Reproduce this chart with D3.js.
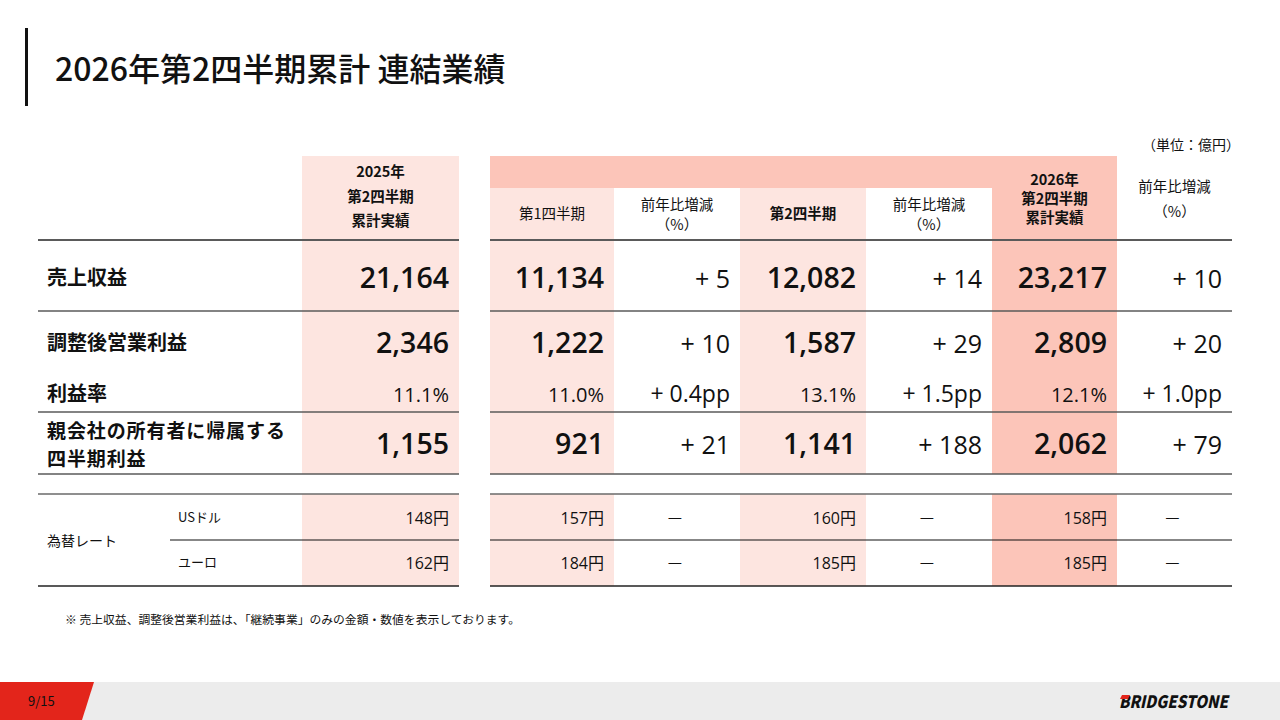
<!DOCTYPE html>
<html><head><meta charset="utf-8">
<script src="https://cdn.jsdelivr.net/npm/d3@7"></script>
<style>
html,body{margin:0;padding:0;background:#fff;}
svg{display:block;}
text{font-family:"Noto Sans CJK JP","Noto Sans",sans-serif;fill:#111;}
.num{font-family:"Open Sans","Noto Sans CJK JP",sans-serif;}
</style></head>
<body>
<svg id="c" width="1280" height="720"></svg>
<script>
// ---- data ----
const title = "2026年第2四半期累計 連結業績";
const unitLabel = "（単位：億円）";
const rowLabels = ["売上収益", "調整後営業利益", "利益率", "親会社の所有者に帰属する|四半期利益"];
const rowTypes = ["amount", "amount", "rate", "amount"];
const prev2025 = [21164, 2346, 11.1, 1155];
const q1 = [11134, 1222, 11.0, 921];
const q1Chg = [5, 10, 0.4, 21];
const q2 = [12082, 1587, 13.1, 1141];
const q2Chg = [14, 29, 1.5, 188];
const cum2026 = [23217, 2809, 12.1, 2062];
const cumChg = [10, 20, 1.0, 79];
const fxGroup = "為替レート";
const fxLabels = ["USドル", "ユーロ"];
const fx2025 = [148, 162];
const fxQ1 = [157, 184];
const fxQ2 = [160, 185];
const fx2026 = [158, 185];
const colKeys = ["prev", "q1", "q1c", "q2", "q2c", "cum", "cumc"];
const colHeaders = [
  ["2025年", "第2四半期", "累計実績"],
  ["第1四半期"],
  ["前年比増減", "（%）"],
  ["第2四半期"],
  ["前年比増減", "（%）"],
  ["2026年", "第2四半期", "累計実績"],
  ["前年比増減", "（%）"]
];
const footnote = "※ 売上収益、調整後営業利益は、「継続事業」のみの金額・数値を表示しております。";
const pageLabel = "9/15";
const brand = "BRIDGESTONE";

// ---- layout ----
const colKeysLeft = [302, 490, 614, 740, 866, 992, 1117];
const colKeysRight = [459, 614, 740, 866, 992, 1117, 1232];
const colLeft = d3.scaleOrdinal().domain(colKeys).range(colKeysLeft);
const colRight = d3.scaleOrdinal().domain(colKeys).range(colKeysRight);
const colFill = d3.scaleOrdinal().domain(colKeys).range(["#fde5e0", "#fde5e0", "none", "#fde5e0", "none", "#fcc5b9", "none"]);
const colBold = d3.scaleOrdinal().domain(colKeys).range([true, false, false, true, false, true, false]);
const rowY = d3.scaleOrdinal().domain(d3.range(4)).range([278, 343, 394, 444]);
const fxY = d3.scaleOrdinal().domain(d3.range(2)).range([518, 563]);

const svg = d3.select("#c");
const fmt = d3.format(",");
const fmt1 = d3.format(".1f");

// title
svg.append("rect").attr("x", 25).attr("y", 28).attr("width", 3).attr("height", 78).attr("fill", "#111");
svg.append("text").attr("x", 55).attr("y", 81).attr("font-size", 32).attr("font-weight", 500).text(title);
svg.append("text").attr("x", 1240).attr("y", 150).attr("text-anchor", "end").attr("font-size", 14).attr("fill", "#333").text(unitLabel);

// column backgrounds
const bodyTop = 156, bodyBottom = 474, fxTop = 494, fxBottom = 586;
colKeys.forEach((k, i) => {
  const f = colFill(k);
  if (f === "none") return;
  const top = (k === "q1" || k === "q2") ? 188 : bodyTop;
  svg.append("rect").attr("x", colLeft(k)).attr("y", top).attr("width", colRight(k) - colLeft(k)).attr("height", bodyBottom - top).attr("fill", f);
  svg.append("rect").attr("x", colLeft(k)).attr("y", fxTop).attr("width", colRight(k) - colLeft(k)).attr("height", fxBottom - fxTop).attr("fill", f);
});
// header band over q1..q2c
svg.append("rect").attr("x", colLeft("q1")).attr("y", bodyTop).attr("width", colLeft("cum") - colLeft("q1")).attr("height", 188 - bodyTop).attr("fill", "#fcc5b9");

// header texts (one text element per header, lines as tspans)
const headerY = {
  prev: [177, 202, 226], q1: [219], q1c: [210, 230], q2: [219], q2c: [210, 230],
  cum: [185, 204, 223], cumc: [192, 217]
};
colKeys.forEach((k, i) => {
  const cx = (colLeft(k) + colRight(k)) / 2;
  const t = svg.append("text")
    .attr("text-anchor", "middle")
    .attr("font-size", 14.5)
    .attr("font-weight", colBold(k) ? 700 : 400)
    .attr("fill", "#222");
  t.selectAll("tspan").data(colHeaders[i]).join("tspan")
    .attr("x", cx).attr("y", (d, j) => headerY[k][j])
    .text(d => d);
});

// horizontal lines
function hline(y, x1, x2, w, c) {
  svg.append("line").attr("x1", x1).attr("x2", x2).attr("y1", y).attr("y2", y).attr("stroke", c).attr("stroke-width", w);
}
[[240, 2, "#5a5a5a"], [311, 1.6, "#5a5a5a"], [412, 1.6, "#5a5a5a"], [474, 1.6, "#5a5a5a"], [494, 1.6, "#6a6a6a"], [586, 1.4, "#222"]]
  .forEach(([y, w, c]) => { hline(y, 38, 459, w, c); hline(y, 490, 1232, w, c); });
hline(540, 170, 459, 1.2, "#111"); hline(540, 490, 1232, 1.2, "#111");

// row labels
rowLabels.forEach((lab, i) => {
  const parts = lab.split("|");
  if (parts.length === 1) {
    svg.append("text").attr("x", 47).attr("y", rowY(i) + 7)
      .attr("font-size", 20).attr("font-weight", 700).text(lab);
  } else {
    svg.append("g").selectAll("text").data(parts).join("text")
      .attr("x", 47).attr("y", (d, j) => rowY(i) - 6 + j * 28)
      .attr("font-size", 19).attr("letter-spacing", 0.9).attr("font-weight", 700).text(d => d);
  }
});

// main values
const valueCols = { prev: prev2025, q1: q1, q1c: q1Chg, q2: q2, q2c: q2Chg, cum: cum2026, cumc: cumChg };
colKeys.forEach(k => {
  const isChg = k.endsWith("c");
  const arr = valueCols[k];
  svg.append("g").selectAll("text").data(arr).join("text")
    .attr("class", "num")
    .attr("x", colRight(k) - 10)
    .attr("y", (d, i) => rowY(i) + (rowTypes[i] === "rate" ? 8 : 10))
    .attr("text-anchor", "end")
    .attr("font-size", (d, i) => rowTypes[i] === "rate" ? (isChg ? 23 : 20) : (isChg ? 25 : 28.5))
    .attr("font-weight", (d, i) => (!isChg && rowTypes[i] !== "rate") ? 600 : 400)
    .text((d, i) => rowTypes[i] === "rate"
      ? (isChg ? "+ " + fmt1(d) + "pp" : fmt1(d) + "%")
      : (isChg ? "+ " + d : fmt(d)));
});

// fx block
svg.append("text").attr("x", 47).attr("y", 546).attr("font-size", 14).text(fxGroup);
svg.append("g").selectAll("text").data(fxLabels).join("text")
  .attr("x", 178).attr("y", (d, i) => fxY(i) + 4).attr("font-size", 13).text(d => d);
const fxCols = { prev: fx2025, q1: fxQ1, q2: fxQ2, cum: fx2026 };
colKeys.forEach(k => {
  const g = svg.append("g");
  if (fxCols[k]) {
    g.selectAll("text").data(fxCols[k]).join("text")
      .attr("class", "num")
      .attr("x", colRight(k) - 10).attr("y", (d, i) => fxY(i) + 6)
      .attr("text-anchor", "end").attr("font-size", 16)
      .text(d => d + "円");
  } else {
    g.selectAll("text").data(fxLabels).join("text")
      .attr("x", (colLeft(k) + colRight(k)) / 2 - 2).attr("y", (d, i) => fxY(i) + 5)
      .attr("text-anchor", "middle").attr("font-size", 16)
      .text("—");
  }
});

// footnote
svg.append("text").attr("x", 65).attr("y", 624).attr("font-size", 11.8).attr("fill", "#222").text(footnote);

// footer
svg.append("rect").attr("x", 0).attr("y", 682).attr("width", 1280).attr("height", 38).attr("fill", "#ececec");
svg.append("path").attr("d", "M0,682 L94,682 L82,720 L0,720 Z").attr("fill", "#e3251b");
svg.append("text").attr("x", 28).attr("y", 706).attr("font-size", 13).attr("fill", "#fff").attr("font-family", "Roboto, sans-serif").text(pageLabel);
// brand
svg.append("text").attr("x", 1119).attr("y", 708).attr("font-size", 17).attr("font-weight", 900)
  .attr("font-style", "italic").attr("font-family", "'Liberation Sans Narrow','DejaVu Sans Condensed',sans-serif")
  .attr("textLength", 109).attr("lengthAdjust", "spacingAndGlyphs").attr("fill", "#111").text(brand);
svg.append("path").attr("d", "M1122,695 L1130,695 L1128,699 L1120,699 Z").attr("fill", "#e3251b");
</script>
</body></html>
